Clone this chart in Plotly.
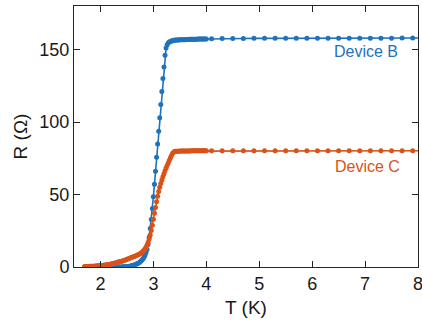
import plotly.graph_objects as go

# Dense sweep (K)
T_dense = [1.70, 1.72, 1.74, 1.76, 1.78, 1.80, 1.82, 1.84, 1.86, 1.88,
           1.90, 1.92, 1.94, 1.96, 1.98, 2.00, 2.02, 2.04, 2.06, 2.08,
           2.10, 2.12, 2.14, 2.16, 2.18, 2.20, 2.22, 2.24, 2.26, 2.28,
           2.30, 2.32, 2.34, 2.36, 2.38, 2.40,
           2.42, 2.44, 2.46, 2.48, 2.50, 2.52, 2.54, 2.56, 2.58, 2.60,
           2.62, 2.64, 2.66, 2.68, 2.70, 2.72, 2.74, 2.76, 2.78, 2.80,
           2.82, 2.84, 2.86, 2.88, 2.90, 2.92, 2.94, 2.96, 2.98, 3.00,
           3.02, 3.04, 3.06, 3.08, 3.10, 3.12, 3.14, 3.16, 3.18, 3.20,
           3.22, 3.24, 3.26, 3.28, 3.30, 3.32, 3.34, 3.36, 3.38, 3.40,
           3.42, 3.44, 3.46, 3.48, 3.50, 3.52, 3.54, 3.56, 3.58, 3.60,
           3.62, 3.64, 3.66, 3.68, 3.70, 3.72, 3.74, 3.76, 3.78, 3.80,
           3.82, 3.84, 3.86, 3.88, 3.90, 3.92, 3.94, 3.96, 3.98, 4.00]

R_B_dense = [
    0.0, 0.0, 0.0, 0.0, 0.0, 0.0, 0.0, 0.0, 0.0, 0.0,
    0.0, 0.0, 0.0, 0.0, 0.0, 0.0, 0.0, 0.0, 0.0, 0.0,
    0.0, 0.0, 0.0, 0.0, 0.0, 0.0, 0.0, 0.0, 0.0, 0.0,
    0.0, 0.0, 0.0, 0.0, 0.0, 0.0,
    0.1, 0.1, 0.2, 0.2, 0.3, 0.4, 0.5, 0.6, 0.8, 1.0,
    1.2, 1.4, 1.7, 2.0, 2.4, 2.8, 3.3, 3.9, 4.6, 5.5,
    6.6, 8.0, 9.8, 12.0, 15.5, 20.5, 26.5, 32.8, 40.4, 48.4,
    57.0, 66.0, 75.7, 84.9, 93.6, 103.0, 112.0, 121.0, 130.0, 138.0,
    146.0, 151.0, 153.3, 154.5, 155.2, 155.6, 155.9, 156.1, 156.3, 156.4,
    156.5, 156.5, 156.6, 156.6, 156.7, 156.7, 156.7, 156.8, 156.8, 156.8,
    156.9, 156.9, 156.9, 157.0, 157.0, 157.0, 157.0, 157.1, 157.1, 157.1,
    157.1, 157.2, 157.2, 157.2, 157.2, 157.2, 157.3, 157.3, 157.3, 157.3]

R_C_dense = [
    0.3, 0.3, 0.3, 0.4, 0.4, 0.5, 0.5, 0.5, 0.6, 0.6,
    0.7, 0.7, 0.8, 0.8, 0.9, 1.0, 1.0, 1.1, 1.2, 1.3,
    1.4, 1.5, 1.6, 1.7, 1.9, 2.0, 2.2, 2.4, 2.6, 2.8,
    3.0, 3.2, 3.4, 3.6, 3.8, 4.0,
    4.2, 4.4, 4.7, 5.0, 5.3, 5.6, 5.9, 6.2, 6.5, 6.8,
    7.0, 7.3, 7.6, 7.9, 8.2, 8.6, 9.0, 9.5, 10.0, 10.7,
    11.5, 12.5, 13.7, 15.2, 17.0, 19.3, 22.0, 25.2, 28.8, 33.0,
    37.0, 41.0, 45.0, 48.8, 52.0, 55.0, 57.6, 60.0, 62.2, 64.3,
    66.3, 68.2, 70.0, 71.8, 73.5, 75.2, 76.8, 78.2, 79.2, 79.7,
    79.8, 79.9, 79.9, 79.9, 80.0, 80.0, 80.0, 80.0, 80.0, 80.0,
    80.0, 80.0, 80.0, 80.0, 80.0, 80.1, 80.1, 80.1, 80.1, 80.1,
    80.1, 80.1, 80.1, 80.1, 80.1, 80.1, 80.1, 80.1, 80.1, 80.1]

# Sparse sweep (K)
T_sparse = [4.1, 4.3, 4.5, 4.7, 4.9, 5.1, 5.3, 5.5, 5.7, 5.9,
            6.1, 6.3, 6.5, 6.7, 6.9, 7.1, 7.3, 7.5, 7.7, 7.9, 8.1]
R_B_sparse = [157.5, 157.6, 157.6, 157.6, 157.7, 157.7, 157.7, 157.7, 157.7, 157.7,
              157.8, 157.8, 157.8, 157.8, 157.8, 157.8, 157.8, 157.8, 157.9, 157.9, 157.9]
R_C_sparse = [80.1, 80.2, 80.2, 80.2, 80.2, 80.2, 80.2, 80.2, 80.2, 80.2,
              80.2, 80.2, 80.2, 80.2, 80.2, 80.2, 80.2, 80.2, 80.2, 80.2, 80.2]

series_names = ["Device B", "Device C"]
colors = ["#1f72bb", "#d95319"]
x_ticks = [2, 3, 4, 5, 6, 7, 8]
y_ticks = [0, 50, 100, 150]

font_family = "Liberation Sans, Arial, Helvetica, sans-serif"

fig = go.Figure()
for name, rd, rs, col in [(series_names[0], R_B_dense, R_B_sparse, colors[0]),
                          (series_names[1], R_C_dense, R_C_sparse, colors[1])]:
    fig.add_trace(go.Scatter(
        x=T_dense + T_sparse, y=rd + rs, mode="lines+markers", name=name,
        line=dict(color=col, width=1.6),
        marker=dict(color=col, size=5, line=dict(width=0)),
        showlegend=False))

fig.add_annotation(x=7.66, y=148.3, text=series_names[0], showarrow=False,
                   xanchor="right", yanchor="middle",
                   font=dict(color=colors[0], size=16, family=font_family))
fig.add_annotation(x=7.70, y=69.2, text=series_names[1], showarrow=False,
                   xanchor="right", yanchor="middle",
                   font=dict(color=colors[1], size=16, family=font_family))

axis_common = dict(showline=True, linecolor="#262626", linewidth=1, mirror="ticks",
                   ticks="inside", ticklen=6, tickwidth=1, tickcolor="#262626",
                   showgrid=False, zeroline=False, ticklabeloverflow="allow",
                   automargin=False,
                   tickfont=dict(size=18, color="#1a1a1a", family=font_family))

fig.update_xaxes(range=[1.5, 8], tickvals=x_ticks,
                 title=dict(text="T (K)", font=dict(size=19, color="#1a1a1a", family=font_family),
                            standoff=8),
                 **axis_common)
fig.update_yaxes(range=[0, 180], tickvals=y_ticks,
                 title=dict(text="R (Ω)", font=dict(size=19, color="#1a1a1a", family=font_family),
                            standoff=6),
                 **axis_common)

fig.update_layout(width=422, height=327, margin=dict(l=74, r=4, t=6, b=60),
                  paper_bgcolor="white", plot_bgcolor="white")

fig.write_html("out.html")
